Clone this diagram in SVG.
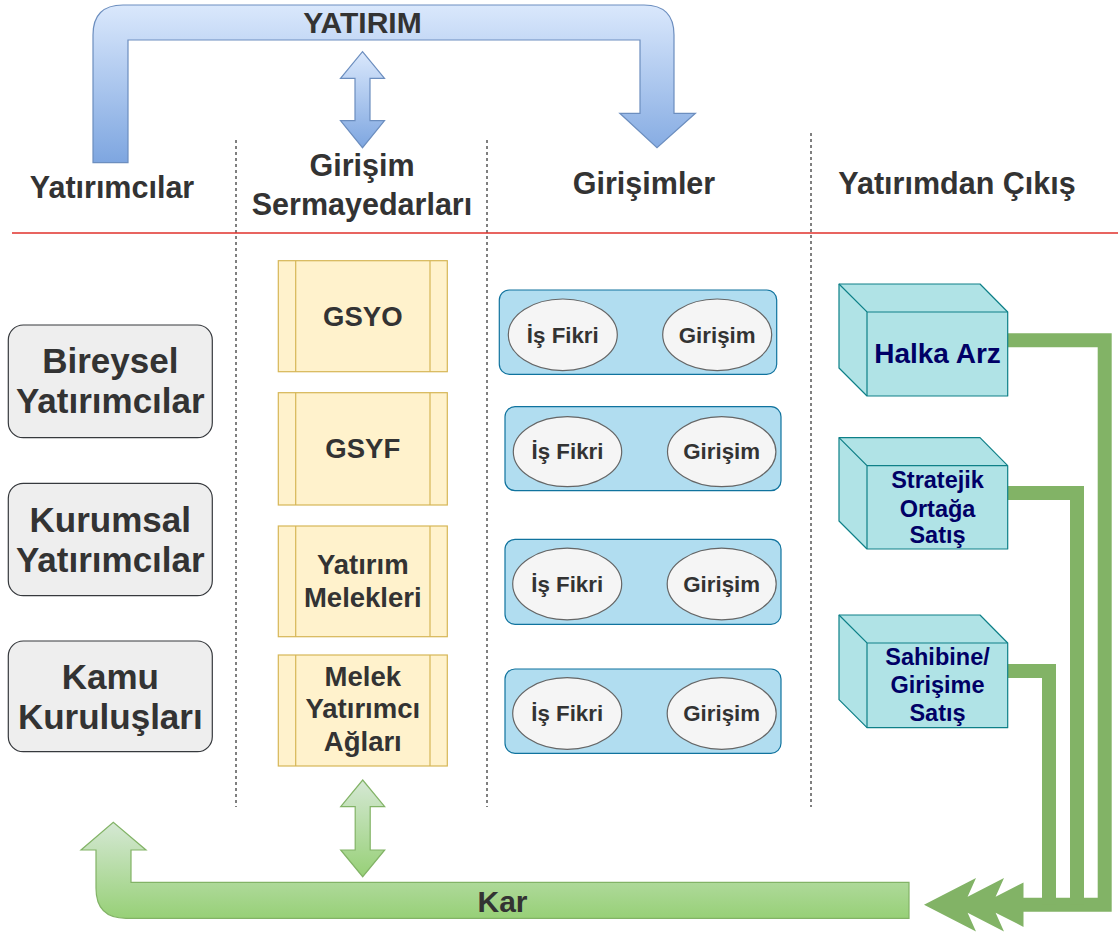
<svg xmlns="http://www.w3.org/2000/svg" width="1120" height="936" viewBox="0 0 1120 936">
<defs>
<linearGradient id="gBlue" x1="0" y1="0" x2="0" y2="1"><stop offset="0" stop-color="#dae8fc"/><stop offset="1" stop-color="#7ea6e0"/></linearGradient>
<linearGradient id="gGreen" x1="0" y1="0" x2="0" y2="1"><stop offset="0" stop-color="#d5e8d4"/><stop offset="1" stop-color="#97d077"/></linearGradient>
<style>
text{font-family:"Liberation Sans",Arial,Helvetica,sans-serif;font-weight:bold;text-anchor:middle;fill:#333333}
.hdr{font-size:30.5px}
.inv rect{fill:#eeeeee;stroke:#36393d;stroke-width:1.2}
.inv text{font-size:35px}
.vc rect{fill:#fff2cc;stroke:#d6b656;stroke-width:1.2}
.vc line{stroke:#d6b656;stroke-width:1.2}
.vc text{font-size:27.5px}
.st rect{fill:#b1ddf0;stroke:#10739e;stroke-width:1.2}
.st ellipse{fill:#f5f5f5;stroke:#666666;stroke-width:1.2}
.st text{font-size:22.3px}
.cube .body{fill:#b0e3e6;stroke:#0e8088;stroke-width:1.2;stroke-linejoin:round}
.cube .edge{fill:none;stroke:#0e8088;stroke-width:1.2}
.cube text{fill:#000066;font-size:23.5px}
.div{stroke:#000000;stroke-width:1;stroke-dasharray:3 3;fill:none}
.gl{fill:none;stroke:#82b366;stroke-width:14;stroke-linejoin:miter}
</style>
</defs>

<!-- lanes -->
<g id="lanes">
<line class="div" x1="236" y1="140" x2="236" y2="807"/>
<line class="div" x1="487" y1="140" x2="487" y2="807"/>
<line class="div" x1="811" y1="133" x2="811" y2="807"/>
<line x1="12" y1="233" x2="1118" y2="233" stroke="#e0302b" stroke-width="1.5"/>
</g>

<!-- headers -->
<g id="headers">
<text class="hdr" x="112" y="198">Yatırımcılar</text>
<text class="hdr" x="362" y="176">Girişim</text>
<text class="hdr" x="362" y="215">Sermayedarları</text>
<text class="hdr" x="644" y="194">Girişimler</text>
<text class="hdr" x="957" y="194">Yatırımdan Çıkış</text>
</g>

<!-- connectors -->
<g id="connectors">
<path id="yatirim-arrow" d="M93,162.7 L93,35 Q93,5 123,5 L644,5 Q674,5 674,35 L674,113.3 L695.4,113.3 L657,147.7 L619.8,113.3 L640,113.3 L640,40 L128,40 L128,162.7 Z" fill="url(#gBlue)" stroke="#6c8ebf" stroke-width="1.2"/>
<text x="362.5" y="33" style="font-size:30px">YATIRIM</text>
<path id="blue-double" d="M362.5,51.7 L384.5,78.3 L370,78.3 L370,120.7 L384.5,120.7 L362.5,147.7 L340.5,120.7 L355,120.7 L355,78.3 L340.5,78.3 Z" fill="url(#gBlue)" stroke="#6c8ebf" stroke-width="1.2"/>
<path id="green-double" d="M362.7,780 L384.7,806.7 L370.2,806.7 L370.2,850 L384.7,850 L362.7,876.7 L340.7,850 L355.2,850 L355.2,806.7 L340.7,806.7 Z" fill="url(#gGreen)" stroke="#82b366" stroke-width="1.2"/>
<path id="kar-arrow" d="M909,882.3 L131,882.3 L131,850 L146,850 L113.3,822.3 L81,850 L96,850 L96,888.3 Q96,918.3 126,918.3 L909,918.3 Z" fill="url(#gGreen)" stroke="#82b366" stroke-width="1.2"/>
<text x="502.5" y="911.5" style="font-size:30px">Kar</text>
<polyline class="gl" points="1007.7,340.3 1104.7,340.3 1104.7,904.7 1023,904.7"/>
<polyline class="gl" points="1007.7,493 1077,493 1077,904.7"/>
<polyline class="gl" points="1007.7,671 1049,671 1049,904.7"/>
<polygon fill="#82b366" points="924,904.7 976,878 967.6,896.7 1004,878 995.6,896.7 1023.5,882.5 1023.5,926.9 995.6,912.7 1004,931.4 967.6,912.7 976,931.4"/>
</g>

<!-- investors -->
<g id="bireysel" class="inv">
<rect x="8.3" y="325" width="204" height="112.7" rx="15"/>
<text x="110.3" y="373">Bireysel</text>
<text x="110.3" y="413.3">Yatırımcılar</text>
</g>
<g id="kurumsal" class="inv">
<rect x="8.3" y="483.3" width="204" height="112.4" rx="15"/>
<text x="110.3" y="531.5">Kurumsal</text>
<text x="110.3" y="571.5">Yatırımcılar</text>
</g>
<g id="kamu" class="inv">
<rect x="8.3" y="641" width="204" height="110.7" rx="15"/>
<text x="110.3" y="688.5">Kamu</text>
<text x="110.3" y="728.5">Kuruluşları</text>
</g>

<!-- venture capitalists -->
<g id="gsyo" class="vc">
<rect x="278.3" y="260.7" width="169" height="111"/>
<line x1="295.7" y1="260.7" x2="295.7" y2="371.7"/><line x1="430" y1="260.7" x2="430" y2="371.7"/>
<text x="362.8" y="326">GSYO</text>
</g>
<g id="gsyf" class="vc">
<rect x="278.3" y="392.7" width="169" height="112.3"/>
<line x1="295.7" y1="392.7" x2="295.7" y2="505"/><line x1="430" y1="392.7" x2="430" y2="505"/>
<text x="362.8" y="458.3">GSYF</text>
</g>
<g id="melekler" class="vc">
<rect x="278.3" y="526" width="169" height="110.7"/>
<line x1="295.7" y1="526" x2="295.7" y2="636.7"/><line x1="430" y1="526" x2="430" y2="636.7"/>
<text x="362.8" y="574.3">Yatırım</text>
<text x="362.8" y="606.7">Melekleri</text>
</g>
<g id="melek-aglari" class="vc">
<rect x="278.3" y="655" width="169" height="111"/>
<line x1="295.7" y1="655" x2="295.7" y2="766"/><line x1="430" y1="655" x2="430" y2="766"/>
<text x="362.8" y="685.7">Melek</text>
<text x="362.8" y="718.3">Yatırımcı</text>
<text x="362.8" y="750.7">Ağları</text>
</g>

<!-- startups -->
<g id="girisim1" class="st">
<rect x="499.3" y="290" width="277.4" height="84.3" rx="10"/>
<ellipse cx="562.8" cy="334.8" rx="54.5" ry="35.8"/>
<ellipse cx="717.2" cy="334.8" rx="54.5" ry="35.8"/>
<text x="562.8" y="342.5">İş Fikri</text>
<text x="717.2" y="342.5">Girişim</text>
</g>
<g id="girisim2" class="st">
<rect x="505" y="406.7" width="276" height="84" rx="10"/>
<ellipse cx="567.5" cy="451.7" rx="54.2" ry="35"/>
<ellipse cx="721.7" cy="451.7" rx="54.2" ry="35"/>
<text x="567.5" y="459.4">İş Fikri</text>
<text x="721.7" y="459.4">Girişim</text>
</g>
<g id="girisim3" class="st">
<rect x="505" y="539.3" width="276" height="85" rx="10"/>
<ellipse cx="567.2" cy="584" rx="54.5" ry="35.8"/>
<ellipse cx="721.7" cy="584" rx="54.5" ry="35.8"/>
<text x="567.2" y="591.7">İş Fikri</text>
<text x="721.7" y="591.7">Girişim</text>
</g>
<g id="girisim4" class="st">
<rect x="505" y="669" width="276" height="84.3" rx="10"/>
<ellipse cx="567.2" cy="713.5" rx="54.5" ry="35.8"/>
<ellipse cx="721.7" cy="713.5" rx="54.5" ry="35.8"/>
<text x="567.2" y="721.2">İş Fikri</text>
<text x="721.7" y="721.2">Girişim</text>
</g>

<!-- exits -->
<g id="halka-arz" class="cube">
<path class="body" d="M839,284 L980,284 L1007.7,312 L1007.7,396 L867,396 L839,368 Z"/>
<path class="edge" d="M839,284 L867,312 L1007.7,312 M867,312 L867,396"/>
<text x="937.5" y="363" style="font-size:28px">Halka Arz</text>
</g>
<g id="stratejik" class="cube">
<path class="body" d="M839,437.7 L980,437.7 L1007.7,465.7 L1007.7,549 L867,549 L839,521 Z"/>
<path class="edge" d="M839,437.7 L867,465.7 L1007.7,465.7 M867,465.7 L867,549"/>
<text x="937.5" y="488.3">Stratejik</text>
<text x="937.5" y="516.7">Ortağa</text>
<text x="937.5" y="543.3">Satış</text>
</g>
<g id="sahibine" class="cube">
<path class="body" d="M839,615 L980,615 L1007.7,643 L1007.7,727.7 L867,727.7 L839,699.7 Z"/>
<path class="edge" d="M839,615 L867,643 L1007.7,643 M867,643 L867,727.7"/>
<text x="937.5" y="665">Sahibine/</text>
<text x="937.5" y="693.3">Girişime</text>
<text x="937.5" y="720.7">Satış</text>
</g>
</svg>
